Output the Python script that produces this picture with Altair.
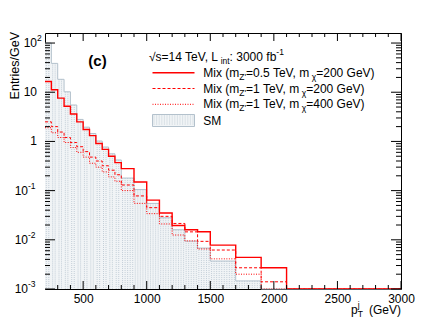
import altair as alt
import pandas as pd

# ---------------- data ----------------
edges = [200, 250, 300, 350, 400, 450, 500, 550, 600, 650, 700, 750, 800,
         900, 1000, 1100, 1200, 1300, 1400, 1500, 1700, 1900, 2100, 3000]
sm = [100, 38.6, 18.3, 10.2, 5.5, 2.8, 1.95, 1.45, 1.02, 0.77, 0.56, 0.42,
      0.18, 0.105, 0.055, 0.028, 0.016, 0.0094, 0.0068, 0.0037, 0.00146, 0.001, 0.001]
mix05_200 = [16.5, 11.2, 7.6, 5.2, 3.6, 2.5, 1.75, 1.31, 0.91, 0.69, 0.50, 0.37,
             0.28, 0.15, 0.064, 0.035, 0.0195, 0.016, 0.0146, 0.0078, 0.0044, 0.0027, 0.001]
mix1_200 = [2.5, 2.0, 1.55, 1.2, 0.95, 0.78, 0.62, 0.48, 0.40, 0.32, 0.26, 0.21,
            0.13, 0.078, 0.045, 0.030, 0.0215, 0.0145, 0.0093, 0.0062, 0.0027, 0.0014, 0.001]
mix1_400 = [1.9, 1.5, 1.2, 0.95, 0.75, 0.60, 0.48, 0.36, 0.30, 0.24, 0.19, 0.155,
            0.10, 0.055, 0.034, 0.021, 0.0125, 0.0095, 0.0065, 0.0041, 0.0020, 0.001, 0.001]

x_label_values = [500, 1000, 1500, 2000, 2500, 3000]
y_label_values = [0.001, 0.01, 0.1, 1, 10, 100]
y_label_base = ["10", "10", "10", "1", "10", "10"]
y_label_exp = ["-3", "-2", "-1", "", "", "2"]

legend_labels = ["Mix (m_Z'=0.5 TeV, m_χ=200 GeV)", "Mix (m_Z'=1 TeV, m_χ=200 GeV)",
                 "Mix (m_Z'=1 TeV, m_χ=400 GeV)", "SM"]

# ---------------- layout / style ----------------
W, H = 356, 256
FONT = "Liberation Sans"
RED = "#ff0000"
SM_FILL = "#f1f4f6"
SM_HATCH = "#c3ced7"
SM_STROKE = "#b3c1cc"
YMIN, YMAX = 0.001, 160
HATCH_STEP = 20  # GeV between hatch lines

AW = {' ': 278, '(': 333, ')': 333, ',': 278, '.': 278, '-': 333, '=': 584, ':': 278,
      "'": 191, '/': 278, 'M': 833, 'i': 222, 'x': 500, 'm': 833, 'Z': 611, 'T': 611,
      'e': 556, 'V': 667, 'G': 778, 'S': 667, 's': 500, 'L': 556, 'n': 556, 't': 278,
      'f': 278, 'b': 556, 'χ': 520, '√': 549, 'j': 222, 'p': 556, 'E': 667, 'r': 333}


def tw(s, size):
    return sum(AW.get(c, 556) for c in s) * size / 1000.0


def one():
    return alt.Data(values=[{"a": 1}])


def rich(segs, x0, y0, size=12, subsize=8.5, color="black"):
    layers = []
    x = x0
    for t, k in segs:
        s = size if k == "n" else subsize
        dy = 0 if k == "n" else (4 if k == "sub" else -5)
        layers.append(
            alt.Chart(one()).mark_text(align="left", baseline="middle", font=FONT,
                                       fontSize=s, color=color)
            .encode(x=alt.value(x), y=alt.value(y0 + dy), text=alt.value(t)))
        x += tw(t, s)
    return layers


def steps(vals):
    xs = list(edges[:len(vals)]) + [edges[len(vals)]]
    ys = list(vals) + [vals[-1]]
    return pd.DataFrame({"x": xs, "y": ys, "base": [YMIN] * len(xs)})


def hatch(vals):
    xs, ys, ids = [], [], []
    k = 0
    for i, v in enumerate(vals):
        if v <= YMIN:
            continue
        lo, hi = edges[i], edges[i + 1]
        xx = lo + HATCH_STEP / 2
        while xx < hi:
            xs += [xx, xx]
            ys += [v, YMIN]
            ids += [k, k]
            k += 1
            xx += HATCH_STEP
    return pd.DataFrame({"x": xs, "y": ys, "id": ids})


xsc = alt.Scale(domain=[200, 3000], nice=False, zero=False)
ysc = alt.Scale(type="log", domain=[YMIN, YMAX], nice=False)

X = alt.X("x:Q", scale=xsc,
          axis=alt.Axis(values=x_label_values, ticks=False, domain=False, grid=False,
                        labelFont=FONT, labelFontSize=12, labelColor="black",
                        labelPadding=4, labelFlush=False, labelOverlap=False,
                        format="d", title=None))
Y = alt.Y("y:Q", scale=ysc, axis=None)

layers = []

# SM filled histogram (hatched)
sm_df = steps(sm)
layers.append(alt.Chart(sm_df).mark_area(interpolate="step-after", color=SM_FILL, opacity=1)
              .encode(x=X, y=Y, y2="base:Q"))
layers.append(alt.Chart(hatch(sm)).mark_line(color=SM_HATCH, strokeWidth=1, strokeDash=[1, 1])
              .encode(x=X, y=Y, detail="id:N"))
layers.append(alt.Chart(sm_df).mark_line(interpolate="step-after", color=SM_STROKE, strokeWidth=1)
              .encode(x=X, y=Y))

# signal histograms
for vals, dash, sw in [(mix1_400, [1, 1.5], 1.0), (mix1_200, [3, 2], 1.0), (mix05_200, None, 1.4)]:
    kw = dict(interpolate="step-after", color=RED, strokeWidth=sw, clip=True)
    if dash:
        kw["strokeDash"] = dash
    layers.append(alt.Chart(steps(vals)).mark_line(**kw).encode(x=X, y=Y))

# ticks (ROOT style, inside frame)
x_major = list(range(500, 3001, 500))
x_minor = [v for v in range(300, 3000, 100) if v % 500 != 0]
y_major = y_label_values
y_minor = [k * 10 ** d for d in range(-3, 3) for k in range(2, 10) if k * 10 ** d <= YMAX]


def xticks(vals, length):
    d = pd.DataFrame({"x": vals})
    return [alt.Chart(d).mark_rule(color="black", strokeWidth=1)
            .encode(x=alt.X("x:Q", scale=xsc), y=alt.value(H), y2=alt.value(H - length)),
            alt.Chart(d).mark_rule(color="black", strokeWidth=1)
            .encode(x=alt.X("x:Q", scale=xsc), y=alt.value(0), y2=alt.value(length))]


def yticks(vals, length):
    d = pd.DataFrame({"y": vals})
    return [alt.Chart(d).mark_rule(color="black", strokeWidth=1)
            .encode(y=alt.Y("y:Q", scale=ysc), x=alt.value(0), x2=alt.value(length)),
            alt.Chart(d).mark_rule(color="black", strokeWidth=1)
            .encode(y=alt.Y("y:Q", scale=ysc), x=alt.value(W - length), x2=alt.value(W))]


layers += xticks(x_major, 8) + xticks(x_minor, 4) + yticks(y_major, 10) + yticks(y_minor, 5)

# y tick labels with superscripts
ylab = pd.DataFrame({"y": y_label_values, "base": y_label_base, "exp": y_label_exp})
ylab["neg"] = ylab["exp"].str.startswith("-")
for neg, xa in [(True, -17), (False, -8)]:
    sub = alt.Chart(ylab).transform_filter(alt.datum.neg == neg)
    layers.append(sub.mark_text(align="right", baseline="middle", font=FONT, fontSize=12,
                                color="black")
                  .encode(y=alt.Y("y:Q", scale=ysc), x=alt.value(xa), text="base:N"))
    layers.append(sub.mark_text(align="left", baseline="middle", font=FONT, fontSize=8.5,
                                color="black", dy=-5)
                  .encode(y=alt.Y("y:Q", scale=ysc), x=alt.value(xa), text="exp:N"))

# axis titles
layers.append(alt.Chart(one()).mark_text(align="right", baseline="middle", font=FONT,
                                         fontSize=12.5, angle=270, color="black")
              .encode(x=alt.value(-30), y=alt.value(-1), text=alt.value("Entries/GeV")))
layers += rich([("p", "n"), ("T", "sub")], 306, 277)
layers += rich([("j", "sup")], 306 + tw("p", 12), 277)
layers.append(alt.Chart(one()).mark_text(align="right", baseline="middle", font=FONT,
                                         fontSize=12, color="black")
              .encode(x=alt.value(W), y=alt.value(277), text=alt.value("(GeV)")))

# panel label
layers.append(alt.Chart(one()).mark_text(align="center", baseline="middle", font=FONT,
                                         fontSize=15, fontWeight="bold", color="black")
              .encode(x=alt.value(52.5), y=alt.value(28), text=alt.value("(c)")))

# legend header
layers += rich([("√s=14 TeV, L", "n"), ("int", "sub"), (": 3000 fb", "n"), ("-1", "sup")], 104, 24)

# legend rows
row_y = [39.7, 55.5, 71.3, 87.5]
sx0, sx1, tx = 107.5, 149.5, 158.3
for i, (dash, sw) in enumerate([(None, 1.4), ([3, 2], 1.0), ([1, 1.5], 1.0)]):
    kw = dict(color=RED, strokeWidth=sw)
    if dash:
        kw["strokeDash"] = dash
    layers.append(alt.Chart(one()).mark_rule(**kw)
                  .encode(x=alt.value(sx0), x2=alt.value(sx1), y=alt.value(row_y[i])))
    lab = legend_labels[i]
    pre, rest = lab.split("_Z'")
    mid, post = rest.split("_χ")
    layers += rich([(pre, "n"), ("Z'", "sub"), (mid, "n"), ("χ", "sub"), (post, "n")], tx, row_y[i])

layers.append(alt.Chart(one()).mark_rect(fill=SM_FILL, stroke=SM_STROKE, strokeWidth=1)
              .encode(x=alt.value(sx0), x2=alt.value(sx1), y=alt.value(row_y[3] - 6),
                      y2=alt.value(row_y[3] + 6)))
for k in range(16):
    px = sx0 + 1.5 + k * 2.6
    layers.append(alt.Chart(one()).mark_rule(color=SM_HATCH, strokeWidth=1, strokeDash=[1, 1])
                  .encode(x=alt.value(px), x2=alt.value(px),
                          y=alt.value(row_y[3] - 5), y2=alt.value(row_y[3] + 5)))
layers += rich([(legend_labels[3], "n")], tx, row_y[3])

chart = alt.layer(*layers).properties(
    width=W, height=H,
    padding={"left": 37, "top": 25, "right": 37, "bottom": 33},
    autosize=alt.AutoSizeParams(type="none"),
).configure_view(stroke="black", strokeWidth=1)

chart.save("out.html", embed_options={"renderer": "svg", "actions": False})
